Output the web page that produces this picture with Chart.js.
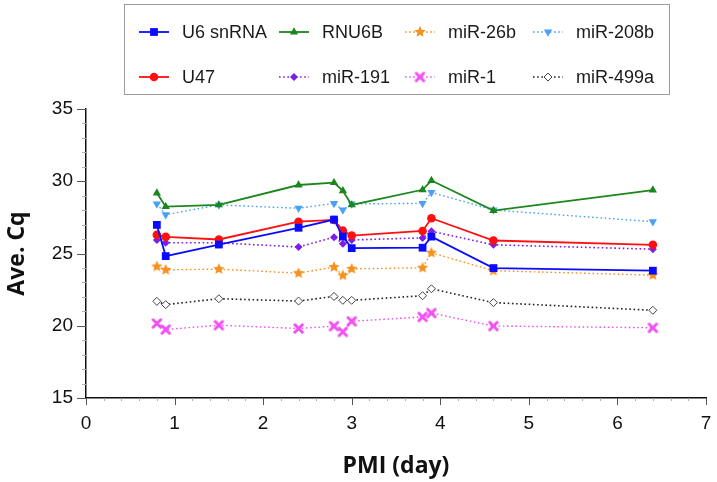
<!DOCTYPE html>
<html>
<head>
<meta charset="utf-8">
<script src="https://cdn.jsdelivr.net/npm/chart.js@4.4.1/dist/chart.umd.min.js"></script>
<style>
  html, body { margin: 0; padding: 0; background: #fff; }
  #wrap { width: 717px; height: 482px; position: relative; }
</style>
</head>
<body>
<div id="wrap"><canvas id="cqChart" width="717" height="482"></canvas></div>
<script>
// PMI (day) on the x axis
let pmiDays = [0.8, 0.9, 1.5, 2.4, 2.8, 2.9, 3.0, 3.8, 3.9, 4.6, 6.4];

// Ave. Cq per reference gene
let u6snRNA = [26.98, 24.82, 25.62, 26.78, 27.35, 26.17, 25.37, 25.40, 26.17, 23.99, 23.81];
let u47     = [26.29, 26.15, 25.97, 27.20, 27.32, 26.58, 26.24, 26.56, 27.44, 25.90, 25.60];
let rnu6b   = [29.18, 28.24, 28.36, 29.74, 29.90, 29.34, 28.36, 29.41, 30.05, 27.97, 29.39];
let mir191  = [25.94, 25.74, 25.74, 25.45, 26.13, 25.67, 25.94, 26.08, 26.54, 25.60, 25.30];
let mir26b  = [24.10, 23.87, 23.92, 23.64, 24.06, 23.48, 23.94, 24.01, 25.05, 23.81, 23.50];
let mir1    = [20.16, 19.74, 20.04, 19.81, 19.97, 19.58, 20.31, 20.61, 20.88, 19.98, 19.86];
let mir208b = [28.43, 27.69, 28.36, 28.13, 28.47, 28.01, 28.43, 28.47, 29.23, 28.01, 27.20];
let mir499a = [21.69, 21.46, 21.87, 21.71, 22.03, 21.76, 21.76, 22.08, 22.56, 21.60, 21.07];

let seriesNames = ['U6 snRNA', 'U47', 'RNU6B', 'miR-191', 'miR-26b', 'miR-1', 'miR-208b', 'miR-499a'];
let seriesValues = [u6snRNA, u47, rnu6b, mir191, mir26b, mir1, mir208b, mir499a];

let yTicks = [15, 20, 25, 30, 35];
let xTicks = [0, 1, 2, 3, 4, 5, 6, 7];

// small canvases for the marker shapes chart.js has no filled version of
function starMarker(color, r) {
  let c = document.createElement('canvas');
  c.width = c.height = Math.ceil(r * 2 + 2);
  let g = c.getContext('2d');
  let cx = c.width / 2, cy = c.height / 2;
  g.beginPath();
  for (let i = 0; i < 10; i++) {
    let rad = i % 2 ? r * 0.45 : r;
    let a = -Math.PI / 2 + i * Math.PI / 5;
    g.lineTo(cx + rad * Math.cos(a), cy + rad * Math.sin(a));
  }
  g.closePath();
  g.fillStyle = color;
  g.fill();
  return c;
}

function crossMarker(color, r, w) {
  let c = document.createElement('canvas');
  c.width = c.height = Math.ceil(r * 2 + w);
  let g = c.getContext('2d');
  let cx = c.width / 2, cy = c.height / 2;
  g.strokeStyle = color;
  g.lineWidth = w;
  g.lineCap = 'round';
  g.beginPath();
  g.moveTo(cx - r * 0.75, cy - r * 0.75); g.lineTo(cx + r * 0.75, cy + r * 0.75);
  g.moveTo(cx + r * 0.75, cy - r * 0.75); g.lineTo(cx - r * 0.75, cy + r * 0.75);
  g.stroke();
  return c;
}

let dot = [1.6, 2.6];
let styles = [
  { color: '#0a0aff', dash: [], width: 1.8, point: 'rect', radius: 5.5 },
  { color: '#ff1010', dash: [], width: 1.8, point: 'circle', radius: 4.3 },
  { color: '#1b861b', dash: [], width: 1.8, point: 'triangle', radius: 4.8 },
  { color: '#7d1ee6', dash: dot, width: 1.6, point: 'rectRot', radius: 4 },
  { color: '#f7901e', dash: dot, width: 1.4, point: starMarker('#f7901e', 6) },
  { color: '#f050f0', dash: dot, width: 1.4, point: crossMarker('#f050f0', 5, 3) },
  { color: '#4aa0f5', dash: dot, width: 1.4, point: 'triangle', radius: 4.8, rotation: 180 },
  { color: '#222222', dash: dot, width: 1.6, point: 'rectRot', radius: 4, fill: '#ffffff', border: '#444444' }
];

let datasets = seriesNames.map((name, i) => {
  let s = styles[i];
  return {
    label: name,
    data: pmiDays.map((d, j) => ({ x: d, y: seriesValues[i][j] })),
    borderColor: s.color,
    borderWidth: s.width,
    borderDash: s.dash,
    pointStyle: s.point,
    pointRadius: s.radius || 5,
    pointRotation: s.rotation || 0,
    pointBackgroundColor: s.fill || s.color,
    pointBorderColor: s.border || s.color,
    pointBorderWidth: s.border ? 1 : 0,
    tension: 0
  };
});

// legend: 4 columns x 2 rows inside a grey frame
let legendCols = [139, 279, 405, 533];
let legendRows = [32, 77];

let legendBox = {
  id: 'legendBox',
  afterDraw(chart) {
    let ctx = chart.ctx;
    ctx.save();
    ctx.strokeStyle = '#9c9c9c';
    ctx.lineWidth = 1;
    ctx.strokeRect(124.5, 4.5, 545, 90);
    chart.data.datasets.forEach((ds, i) => {
      let x0 = legendCols[Math.floor(i / 2)];
      let y = legendRows[i % 2];
      ctx.strokeStyle = ds.borderColor;
      ctx.lineWidth = ds.borderWidth;
      ctx.setLineDash(ds.borderDash);
      ctx.beginPath();
      ctx.moveTo(x0, y);
      ctx.lineTo(x0 + 30, y);
      ctx.stroke();
      ctx.setLineDash([]);
      ctx.fillStyle = ds.pointBackgroundColor;
      ctx.strokeStyle = ds.pointBorderColor;
      ctx.lineWidth = ds.pointBorderWidth;
      Chart.helpers.drawPoint(ctx, {
        pointStyle: ds.pointStyle, radius: ds.pointRadius,
        rotation: ds.pointRotation, borderWidth: ds.pointBorderWidth
      }, x0 + 15, y);
      ctx.fillStyle = '#1a1a1a';
      ctx.font = '18px "Liberation Sans", Arial, sans-serif';
      ctx.textBaseline = 'middle';
      ctx.fillText(ds.label, x0 + 43, y + 1);
    });
    ctx.restore();
  }
};

// major and minor tick marks on both axes
let tickMarks = {
  id: 'tickMarks',
  afterDraw(chart) {
    let ctx = chart.ctx;
    let xs = chart.scales.x, ys = chart.scales.y;
    let area = chart.chartArea;
    ctx.save();
    ctx.lineWidth = 1;
    for (let v = 15; v <= 35; v++) {
      let py = Math.round(ys.getPixelForValue(v)) + 0.5;
      let major = yTicks.includes(v);
      ctx.strokeStyle = major ? '#555' : '#aaa';
      ctx.beginPath();
      ctx.moveTo(area.left - (major ? 9 : 4), py);
      ctx.lineTo(area.left, py);
      ctx.stroke();
    }
    for (let k = 0; k <= 35; k++) {
      let v = k / 5;
      let px = Math.round(xs.getPixelForValue(v)) + 0.5;
      let major = k % 5 === 0;
      ctx.strokeStyle = major ? '#555' : '#aaa';
      ctx.beginPath();
      ctx.moveTo(px, area.bottom);
      ctx.lineTo(px, area.bottom + (major ? 7 : 3));
      ctx.stroke();
    }
    ctx.restore();
  }
};

let ctx = document.getElementById('cqChart').getContext('2d');
let cqChart = new Chart(ctx, {
  type: 'line',
  data: { datasets: datasets },
  options: {
    responsive: false,
    animation: false,
    layout: { padding: { top: 109, right: 11, bottom: 0, left: 0 } },
    plugins: { legend: { display: false }, tooltip: { enabled: false } },
    scales: {
      x: {
        type: 'linear',
        min: 0,
        max: 7,
        afterFit: s => { s.height = 84; s.paddingLeft = 0; s.paddingRight = 0; },
        afterBuildTicks: s => { s.ticks = xTicks.map(v => ({ value: v })); },
        grid: { display: false, drawTicks: false },
        border: { display: true, color: '#111', width: 1.5 },
        ticks: {
          padding: 14,
          color: '#111',
          font: { family: '"Liberation Sans", Arial, sans-serif', size: 19 }
        },
        title: {
          display: true,
          text: 'PMI (day)',
          color: '#111',
          padding: { top: 0, bottom: 2 },
          font: { family: '"Open Sans", sans-serif', size: 23, weight: 'bold' }
        }
      },
      y: {
        type: 'linear',
        min: 15,
        max: 35,
        afterFit: s => { s.width = 86; },
        afterBuildTicks: s => { s.ticks = yTicks.map(v => ({ value: v })); },
        grid: { display: false, drawTicks: false },
        border: { display: true, color: '#111', width: 1.5 },
        ticks: {
          padding: 13,
          color: '#111',
          font: { family: '"Liberation Sans", Arial, sans-serif', size: 19 }
        },
        title: {
          display: true,
          text: 'Ave. Cq',
          color: '#111',
          padding: { top: 4, bottom: 0 },
          font: { family: '"Open Sans", sans-serif', size: 23, weight: 'bold' }
        }
      }
    }
  },
  plugins: [tickMarks, legendBox]
});
</script>
</body>
</html>
